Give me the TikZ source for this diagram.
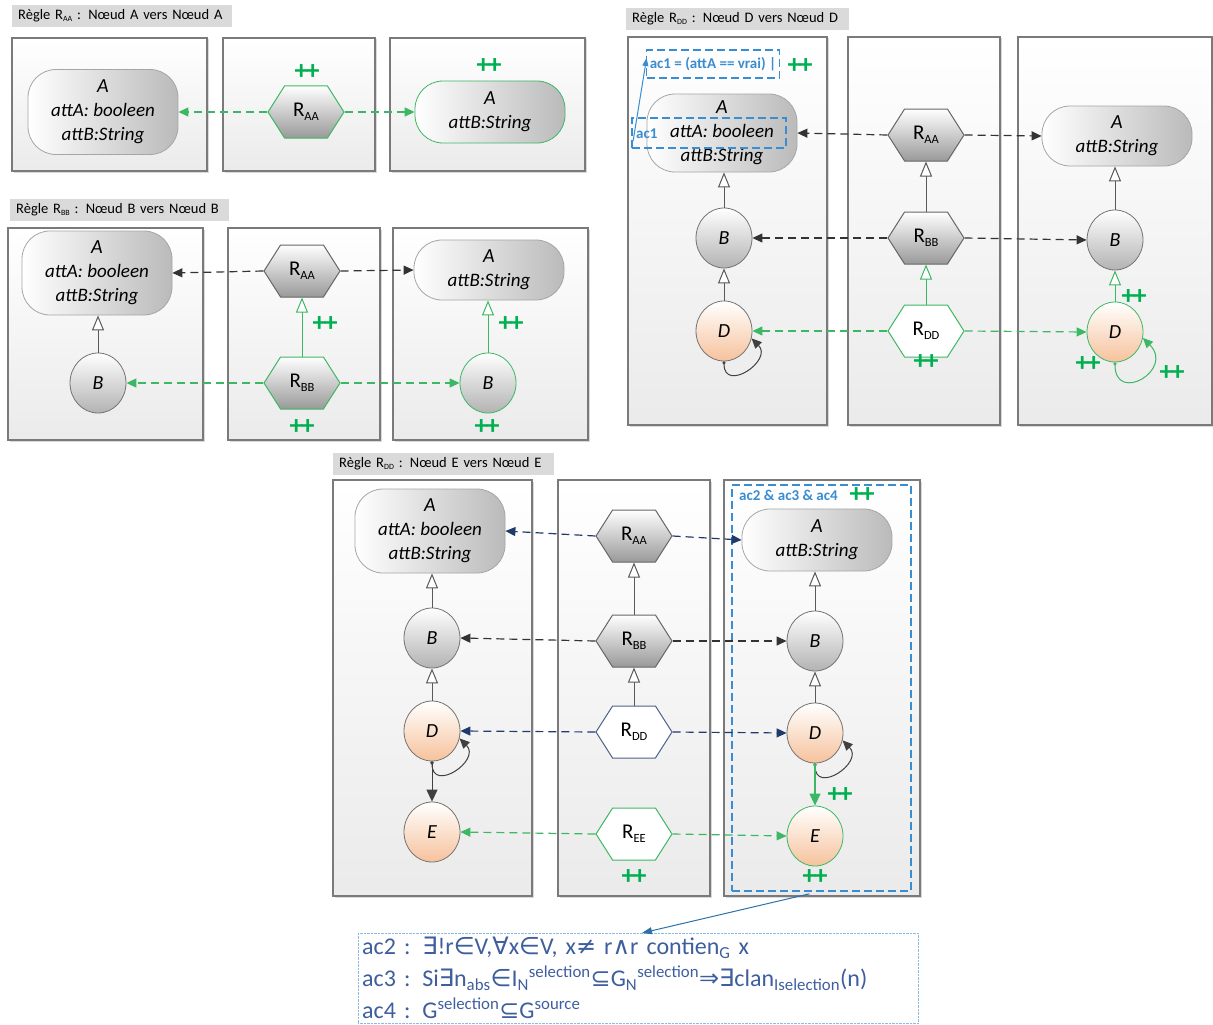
\documentclass[tikz,border=0pt]{standalone}
\usepackage{fontspec}
\setmainfont{Carlito}
\newfontfamily\symf{DejaVu Sans}
\usetikzlibrary{shapes.geometric,shapes.symbols,arrows.meta,shadows,calc}
\definecolor{pgray}{HTML}{7A7A7A}
\definecolor{tgray}{HTML}{DADADA}
\definecolor{grn}{HTML}{3CB865}
\definecolor{ppgreen}{HTML}{00B050}
\definecolor{acb}{HTML}{3A8DD0}
\definecolor{navy}{HTML}{1F3A6B}
\definecolor{dor}{HTML}{F6C29C}
\definecolor{fblue}{HTML}{3E5E9E}
\newcommand\sbs[1]{\raisebox{-4pt}{\fontsize{12.5}{12.5}\selectfont #1}}
\newcommand\sbt[1]{\raisebox{-2pt}{\fontsize{8}{8}\selectfont #1}}
\newcommand\pl{+\kern-2pt+}
\newcommand\sy[1]{{\symf #1}}
\newcommand\bigA{{\fontsize{20}{24}\selectfont A}}
\begin{document}
\begin{tikzpicture}[x=1pt,y=-1pt,
  ttl/.style={anchor=north west, fill=tgray, minimum height=22pt, inner xsep=6pt, inner ysep=0pt,
     font=\fontsize{14.5}{16}\selectfont, text width=#1, align=left},
  panel/.style={draw=pgray, line width=1.3pt, top color=white, bottom color=black!8,
     drop shadow={shadow xshift=1.5pt, shadow yshift=-1.5pt, opacity=0.3}},
  cls/.style={rectangle, rounded corners=28pt, draw=black!35, line width=0.8pt, left color=white, right color=black!27,
     minimum width=150pt, align=center, font=\itshape\fontsize{19}{24}\selectfont, inner sep=0pt},
  ball/.style={ellipse, minimum width=56pt, minimum height=60pt, inner sep=0pt, draw=black!55, line width=0.8pt,
     top color=white, bottom color=black!30, font=\itshape\fontsize{20}{22}\selectfont},
  ballo/.style={ball, bottom color=dor},
  hex/.style={signal, signal to=east and west, signal pointer angle=115, minimum width=76pt, minimum height=52pt,
     inner sep=0pt, draw=black!60, line width=1pt, top color=white, bottom color=black!40,
     font=\fontsize{21}{22}\selectfont},
  hexw/.style={hex, top color=white, bottom color=white},
  pp/.style={text=ppgreen, font=\bfseries\fontsize{27}{27}\selectfont, inner sep=0pt},
  inh/.style={draw=black!65, line width=1pt, -{Triangle[open,length=15pt,width=12pt,fill=white]}},
  inhg/.style={inh, draw=grn},
  dsh/.style={dash pattern=on 8pt off 5pt, line width=1.2pt, -{Triangle[length=10pt,width=9pt]}},
  dg/.style={dsh, draw=grn},
  dk/.style={dsh, draw=black!80},
  dn/.style={dsh, draw=navy},
  selfl/.style={line width=1pt, draw=black!75, {Circle[length=3pt]}-{Triangle[length=10pt,width=9pt]}},
  acbox/.style={draw=acb, dash pattern=on 8pt off 4pt, line width=1.8pt},
  actxt/.style={text=acb, font=\bfseries\fontsize{15}{17}\selectfont, inner sep=0pt}
]
\useasboundingbox (0,0) rectangle (1213,1025);

% ================= Rule RAA =================
\node[ttl=208pt] (t1) at (12,5) {Règle R\sbt{AA} : Nœud A vers Nœud A};
\path[panel] (12,38) rectangle (207,171);
\path[panel] (223,38) rectangle (375,171);
\path[panel] (390,38) rectangle (585,171);
\node[cls, minimum height=85pt] (a1l) at (103,112) {\bigA\\attA: booleen\\attB:String};
\node[hex, draw=grn] (h1) at (306,112) {R\sbs{AA}};
\node[cls, draw=grn, minimum height=62pt] (a1r) at (490,112) {\bigA\\attB:String};
\node[pp] (p11) at (307,72) {\pl};
\node[pp] (p12) at (489,66) {\pl};
\draw[dg] (h1.west) -- (a1l.east);
\draw[dg] (h1.east) -- (a1r.west);

% ================= Rule RBB =================
\node[ttl=207pt] (t2) at (10,199) {Règle R\sbt{BB} : Nœud B vers Nœud B};
\path[panel] (8,228) rectangle (203,440);
\path[panel] (228,228) rectangle (380,440);
\path[panel] (393,228) rectangle (588,440);
\node[cls, minimum height=84pt] (a2l) at (97,273) {\bigA\\attA: booleen\\attB:String};
\node[ball] (b2l) at (98,383) {B};
\node[hex] (h2a) at (302,271) {R\sbs{AA}};
\node[hex, draw=grn] (h2b) at (302,383) {R\sbs{BB}};
\node[cls, minimum height=60pt] (a2r) at (489,270) {\bigA\\attB:String};
\node[ball, draw=grn] (b2r) at (488,383) {B};
\draw[inh] (b2l.north) -- (b2l.north |- a2l.south);
\draw[inhg] (h2b.north) -- (h2a.south);
\draw[inhg] (b2r.north) -- (b2r.north |- a2r.south);
\draw[dk] (h2a.west) -- (a2l.east);
\draw[dk] (h2a.east) -- (a2r.west);
\draw[dg] (h2b.west) -- (b2l.east);
\draw[dg] (h2b.east) -- (b2r.west);
\node[pp] (p21) at (325,324) {\pl};
\node[pp] (p22) at (511,324) {\pl};
\node[pp] (p23) at (302,427) {\pl};
\node[pp] (p24) at (487,427) {\pl};

% ================= Rule RDD =================
\node[ttl=211pt] (t3) at (626,8) {Règle R\sbt{DD} : Nœud D vers Nœud D};
\path[panel] (628,37) rectangle (827,425);
\path[panel] (848,37) rectangle (1000,425);
\path[panel] (1018,37) rectangle (1212,425);
\node[cls, minimum height=78pt] (a3l) at (722,133) {\bigA\\attA: booleen\\attB:String};
\node[acbox, minimum width=154pt, minimum height=30pt, inner sep=0pt] (acs) at (709,133) {};
\node[actxt, anchor=west] (acsl) at (636,134) {ac1};
\node[acbox, minimum width=133pt, minimum height=28pt, inner sep=0pt, actxt] (act) at (713,64) {ac1 = (attA == vrai) |};
\node[pp] (p31) at (800,66) {\pl};
\draw[acb, line width=1pt, -{Triangle[length=8pt,width=6pt]}] ($(acs.west)+(2,8)$) -- ($(act.west)+(1,-6)$);
\node[ball] (b3l) at (724,238) {B};
\node[ballo] (d3l) at (724,331) {D};
\node[hex] (h3a) at (926,135) {R\sbs{AA}};
\node[hex] (h3b) at (926,238) {R\sbs{BB}};
\node[hexw, draw=grn] (h3d) at (926,331) {R\sbs{DD}};
\node[cls, minimum height=60pt] (a3r) at (1117,136) {\bigA\\attB:String};
\node[ball] (b3r) at (1115,240) {B};
\node[ballo, draw=grn] (d3r) at (1115,332) {D};
\draw[inh] (b3l.north) -- (b3l.north |- a3l.south);
\draw[inh] (d3l.north) -- (b3l.south);
\draw[inh] (h3b.north) -- (h3a.south);
\draw[inhg] (h3d.north) -- (h3b.south);
\draw[inh] (b3r.north) -- (b3r.north |- a3r.south);
\draw[inhg] (d3r.north) -- (b3r.south);
\draw[dk] (h3a.west) -- (a3l.east);
\draw[dk] (h3a.east) -- (a3r.west);
\draw[dk] (h3b.west) -- (b3l.east);
\draw[dk] (h3b.east) -- (b3r.west);
\draw[dg] (h3d.west) -- (d3l.east);
\draw[dg] (h3d.east) -- (d3r.west);
\draw[selfl] (d3l.south) .. controls +(0,32) and +(22,22) .. (d3l.-15);
\draw[selfl, draw=grn] (d3r.south) .. controls +(0,42) and +(32,32) .. (d3r.-12);
\node[pp] (p32) at (926,362) {\pl};
\node[pp] (p33) at (1134,297) {\pl};
\node[pp] (p34) at (1088,364) {\pl};
\node[pp] (p35) at (1172,373) {\pl};

% ================= Rule REE =================
\node[ttl=209pt] (t4) at (333,453) {Règle R\sbt{DD} : Nœud E vers Nœud E};
\path[panel] (333,480) rectangle (532,896);
\path[panel] (558,480) rectangle (710,896);
\path[panel] (724,480) rectangle (920,896);
\node[acbox, anchor=north west, minimum width=179pt, minimum height=406pt, inner sep=0pt] (cbox) at (731,484) {};
\node[actxt, anchor=west] (cboxl) at (739,495) {ac2 \& ac3 \& ac4};
\node[pp] (p41) at (862,495) {\pl};
\node[cls, minimum height=84pt] (a4l) at (430,531) {\bigA\\attA: booleen\\attB:String};
\node[ball] (b4l) at (432,638) {B};
\node[ballo] (d4l) at (432,731) {D};
\node[ballo] (e4l) at (432,832) {E};
\node[hex] (h4a) at (634,536) {R\sbs{AA}};
\node[hex] (h4b) at (634,641) {R\sbs{BB}};
\node[hexw, draw=navy!80] (h4d) at (634,732) {R\sbs{DD}};
\node[hexw, draw=grn] (h4e) at (634,834) {R\sbs{EE}};
\node[cls, minimum height=62pt] (a4r) at (817,540) {\bigA\\attB:String};
\node[ball] (b4r) at (815,641) {B};
\node[ballo] (d4r) at (815,733) {D};
\node[ballo, draw=grn] (e4r) at (815,836) {E};
\draw[inh] (b4l.north) -- (b4l.north |- a4l.south);
\draw[inh] (d4l.north) -- (b4l.south);
\draw[inh] (h4b.north) -- (h4a.south);
\draw[inh] (h4d.north) -- (h4b.south);
\draw[inh] (b4r.north) -- (b4r.north |- a4r.south);
\draw[inh] (d4r.north) -- (b4r.south);
\draw[dn] (h4a.west) -- (a4l.east);
\draw[dn] (h4a.east) -- (a4r.west);
\draw[dk] (h4b.west) -- (b4l.east);
\draw[dk] (h4b.east) -- (b4r.west);
\draw[dn] (h4d.west) -- (d4l.east);
\draw[dn] (h4d.east) -- (d4r.west);
\draw[dg] (h4e.west) -- (e4l.east);
\draw[dg] (h4e.east) -- (e4r.west);
\draw[selfl] (d4l.south) .. controls +(0,32) and +(22,22) .. (d4l.-15);
\draw[selfl] (d4r.south) .. controls +(0,32) and +(22,22) .. (d4r.-15);
\draw[line width=1pt, draw=black!75, {Circle[length=3pt]}-{Triangle[length=12pt,width=11pt]}] (d4l.south) -- (e4l.north);
\draw[line width=1.3pt, draw=grn, {Circle[length=3pt]}-{Triangle[length=12pt,width=11pt]}] (d4r.south) -- (e4r.north);
\node[pp] (p42) at (840,795) {\pl};
\node[pp] (p43) at (634,877) {\pl};
\node[pp] (p44) at (815,877) {\pl};

% ================= Conditions =================
\node[draw=acb!60, densely dotted, anchor=north west, minimum width=560pt, minimum height=90pt,
      text width=552pt, inner xsep=4pt, inner ysep=0pt, align=left, text=fblue,
      font=\fontsize{24}{32}\selectfont] (tbox) at (358,933)
  {ac2 : \sy{∃}!r\sy{∈}V,\sy{∀}x\sy{∈}V, x\sy{≠} r\sy{∧}r contien\textsubscript{G} x\\
   ac3 : Si\sy{∃}n\textsubscript{abs}\sy{∈}I\textsubscript{N}\textsuperscript{selection}\sy{⊆}G\textsubscript{N}\textsuperscript{selection}\sy{⇒}\sy{∃}clan\textsubscript{Iselection}(n)\\
   ac4 : G\textsuperscript{selection}\sy{⊆}G\textsuperscript{source}};
\draw[acb!80!black, line width=1pt, -{Triangle[length=10pt,width=7pt]}] ($(cbox.south)+(-12,2)$) -- ($(tbox.north west)+(284,0)$);
\end{tikzpicture}
\end{document}
